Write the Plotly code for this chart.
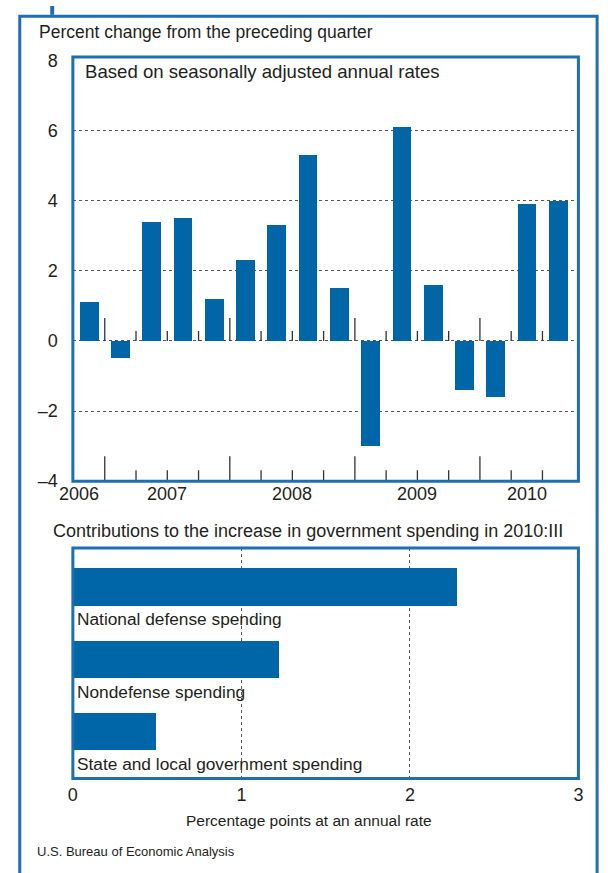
import plotly.graph_objects as go

# ---------------- data ----------------
quarters = ["2006:IV", "2007:I", "2007:II", "2007:III", "2007:IV",
            "2008:I", "2008:II", "2008:III", "2008:IV",
            "2009:I", "2009:II", "2009:III", "2009:IV",
            "2010:I", "2010:II", "2010:III"]
pct_change = [1.1, -0.5, 3.4, 3.5, 1.2, 2.3, 3.3, 5.3, 1.5, -3.0, 6.1, 1.6, -1.4, -1.6, 3.9, 4.0]
y_tick_values = [-4, -2, 0, 2, 4, 6, 8]

components = ["National defense spending", "Nondefense spending",
              "State and local government spending"]
contributions = [2.28, 1.22, 0.49]
x2_tick_values = [0, 1, 2, 3]

# ---------------- style ----------------
BAR = "#0066a8"
FRAME = "#1c6fb0"
TXT = "#231f20"
FONT = "Liberation Sans, Arial, sans-serif"
W, H = 608, 873
Y_RANGE = [-4, 8.1]

def px(x):
    return x / W

def py(y):
    return 1 - y / H

idx = list(range(len(quarters)))
years = [q.split(":")[0] for q in quarters]

fig = go.Figure()

fig.add_trace(go.Bar(x=idx, y=pct_change, marker=dict(color=BAR, line=dict(width=0)),
                     width=0.6, xaxis="x", yaxis="y", hoverinfo="skip"))

comp_idx = list(range(len(components)))
fig.add_trace(go.Bar(x=contributions, y=comp_idx, orientation="h",
                     marker=dict(color=BAR, line=dict(width=0)), width=0.52,
                     xaxis="x2", yaxis="y2", hoverinfo="skip"))

shapes = []
# tick marks on zero line and bottom of upper chart (between quarters)
for i in range(len(quarters) - 1):
    new_year = years[i + 1] != years[i]
    for anchor, ln in ((0, 23 if new_year else 10), (Y_RANGE[0], 25 if new_year else 11)):
        shapes.append(dict(type="line", xref="x", yref="y", ysizemode="pixel",
                           yanchor=anchor, x0=i + 0.5, x1=i + 0.5, y0=0, y1=ln,
                           line=dict(color="#333333", width=1.3), layer="above"))

# inner plot boxes
for (x0, y0, x1, y1) in ((69, 52, 583, 484), (69, 552, 583, 787)):
    shapes.append(dict(type="rect", xref="paper", yref="paper",
                       x0=px(x0), x1=px(x1), y0=py(y0), y1=py(y1),
                       line=dict(color=FRAME, width=3), layer="above"))
# outer frame
shapes.append(dict(type="rect", xref="paper", yref="paper",
                   x0=px(15), x1=px(602), y0=py(10.5), y1=py(890),
                   line=dict(color=FRAME, width=3), layer="above"))
shapes.append(dict(type="rect", xref="paper", yref="paper",
                   x0=px(46), x1=px(50), y0=py(0), y1=py(9),
                   line=dict(width=0), fillcolor=FRAME, layer="above"))

annotations = []
annotations.append(dict(text="Percent change from the preceding quarter", xref="paper", yref="paper",
                        x=px(33), y=py(26), xanchor="left", yanchor="middle", showarrow=False,
                        font=dict(size=17.5, color=TXT)))
annotations.append(dict(text="Based on seasonally adjusted annual rates", xref="paper", yref="paper",
                        x=px(79), y=py(67), xanchor="left", yanchor="middle", showarrow=False,
                        font=dict(size=18.6, color=TXT)))
# year labels
seen = []
for y in years:
    if y not in seen:
        seen.append(y)
for y in seen:
    members = [i for i in idx if years[i] == y]
    xc = sum(members) / len(members)
    annotations.append(dict(text=y, xref="x", yref="paper", x=xc, y=py(497),
                            xanchor="center", yanchor="middle", showarrow=False,
                            xshift=-10 if len(members) == 1 else 0,
                            font=dict(size=18, color=TXT)))
annotations.append(dict(text="Contributions to the increase in government spending in 2010:III",
                        xref="paper", yref="paper", x=px(47), y=py(535), xanchor="left",
                        yanchor="middle", showarrow=False, font=dict(size=18, color=TXT)))
for i, name in enumerate(components):
    annotations.append(dict(text=name, xref="x2", yref="y2", x=0, y=i + 0.45,
                            xanchor="left", yanchor="middle", xshift=2, showarrow=False,
                            font=dict(size=17.3, color=TXT)))
annotations.append(dict(text="Percentage points at an annual rate", xref="paper", yref="paper",
                        x=px(309), y=py(830), xanchor="center", yanchor="middle",
                        showarrow=False, font=dict(size=15.5, color=TXT)))
annotations.append(dict(text="U.S. Bureau of Economic Analysis", xref="paper", yref="paper",
                        x=px(30), y=py(861), xanchor="left", yanchor="middle",
                        showarrow=False, font=dict(size=13, color=TXT)))

y_tick_text = [("\u2013" + str(abs(v))) if v < 0 else str(v) for v in y_tick_values]
inner_ticks = [v for v in y_tick_values if Y_RANGE[0] < v < 8]

fig.update_layout(
    width=W, height=H, margin=dict(l=0, r=0, t=0, b=0),
    paper_bgcolor="white", plot_bgcolor="white", showlegend=False,
    font=dict(family=FONT, size=18, color=TXT),
    bargap=0,
    xaxis=dict(domain=[px(69), px(583)], range=[-0.52, 15.65], showticklabels=False,
               showgrid=False, zeroline=False, ticks="", anchor="y"),
    yaxis=dict(domain=[py(484), py(52)], range=Y_RANGE, tickvals=inner_ticks,
               showticklabels=False, showgrid=True, gridcolor="#555555", gridwidth=1,
               griddash="dot", zeroline=False, ticks="", anchor="x"),
    yaxis3=dict(overlaying="y", range=Y_RANGE, tickvals=y_tick_values, ticktext=y_tick_text,
                showgrid=False, zeroline=False, ticks="", ticklabelstandoff=14,
                anchor="x", side="left", tickfont=dict(size=18, color=TXT)),
    xaxis2=dict(domain=[px(69), px(583)], range=[0, 3], tickvals=x2_tick_values,
                showgrid=True, gridcolor="#555555", gridwidth=1, griddash="dot",
                zeroline=False, ticks="", anchor="y2", ticklabelstandoff=3,
                tickfont=dict(size=18, color=TXT)),
    yaxis2=dict(domain=[py(787), py(552)], range=[2.65, -0.54], showticklabels=False,
                showgrid=False, zeroline=False, ticks="", anchor="x2"),
    shapes=shapes, annotations=annotations,
)
# invisible trace so that the label-only axis is drawn
fig.add_trace(go.Scatter(x=[None], y=[None], xaxis="x", yaxis="y3", showlegend=False,
                         hoverinfo="skip"))

fig.write_html("out.html", config={"displayModeBar": False},
               post_script="document.body.style.margin='0';document.body.style.padding='0';")
